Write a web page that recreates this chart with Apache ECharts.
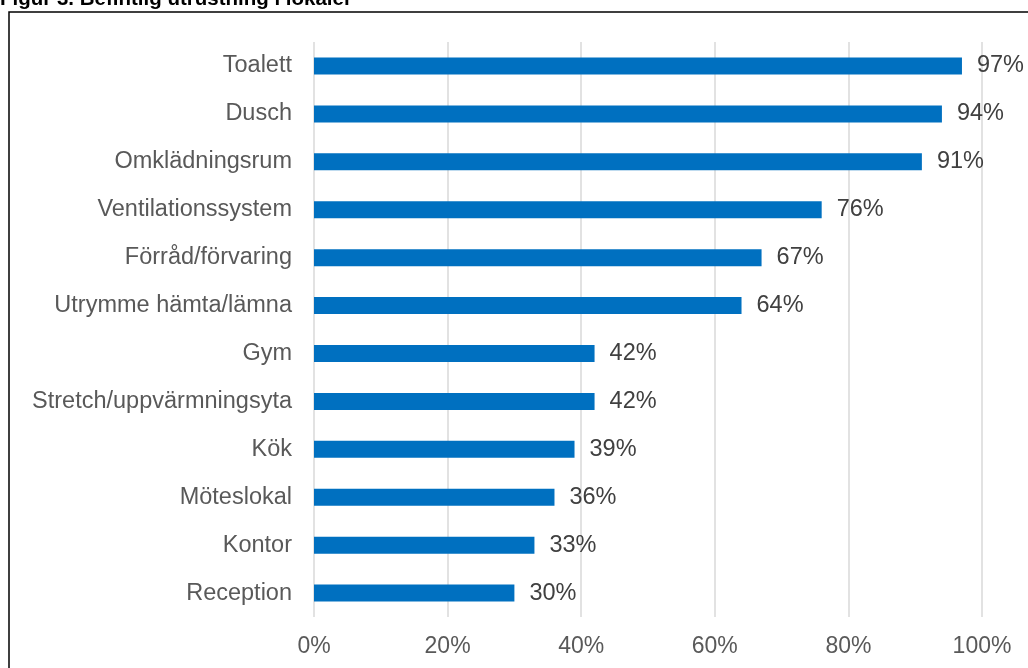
<!DOCTYPE html>
<html><head><meta charset="utf-8">
<script src="https://cdn.jsdelivr.net/npm/echarts@6/dist/echarts.min.js"></script>
<style>html,body{margin:0;padding:0;background:#fff}#c{width:1028px;height:668px}</style>
</head><body><div id="c"></div>
<script>
const categories = ["Toalett","Dusch","Omklädningsrum","Ventilationssystem","Förråd/förvaring","Utrymme hämta/lämna","Gym","Stretch/uppvärmningsyta","Kök","Möteslokal","Kontor","Reception"];
const values = [97,94,91,76,67,64,42,42,39,36,33,30];
const xTicks = [0,20,40,60,80,100];
const titleText = "Figur 3. Befintlig utrustning i lokaler";

const chart = echarts.init(document.getElementById('c'), null, {renderer:'canvas'});
chart.setOption({
  animation:false,
  backgroundColor:'#fff',
  graphic:[
    {type:'rect', shape:{x:9, y:12, width:1040, height:700}, style:{fill:'none', stroke:'#000', lineWidth:1.5}, z:100},
    {type:'text', left:0, top:-11, style:{text:titleText, font:'bold 20.5px "Liberation Sans", Arial, sans-serif', fill:'#000'}, z:100}
  ],
  grid:{left:314, right:46, top:42, bottom:51, containLabel:false},
  xAxis:{
    type:'value', min:0, max:100, interval:20,
    axisLine:{show:false}, axisTick:{show:false},
    splitLine:{show:true, lineStyle:{color:'#d9d9d9', width:1.5}},
    axisLabel:{formatter:v=>xTicks.includes(v)?v+'%':'', color:'#595959', fontSize:23, margin:18, fontFamily:'"Liberation Sans", Arial, sans-serif'}
  },
  yAxis:{
    type:'category', data:categories, inverse:true,
    axisLine:{show:false}, axisTick:{show:false},
    axisLabel:{color:'#595959', fontSize:23.5, margin:22, fontFamily:'"Liberation Sans", Arial, sans-serif'}
  },
  series:[{
    type:'bar', data:values, barWidth:17,
    itemStyle:{color:'#0070C0'},
    label:{show:true, position:'right', distance:15, formatter:p=>p.value+'%', color:'#404040', fontSize:23.5, fontFamily:'"Liberation Sans", Arial, sans-serif'}
  }]
});
</script></body></html>
